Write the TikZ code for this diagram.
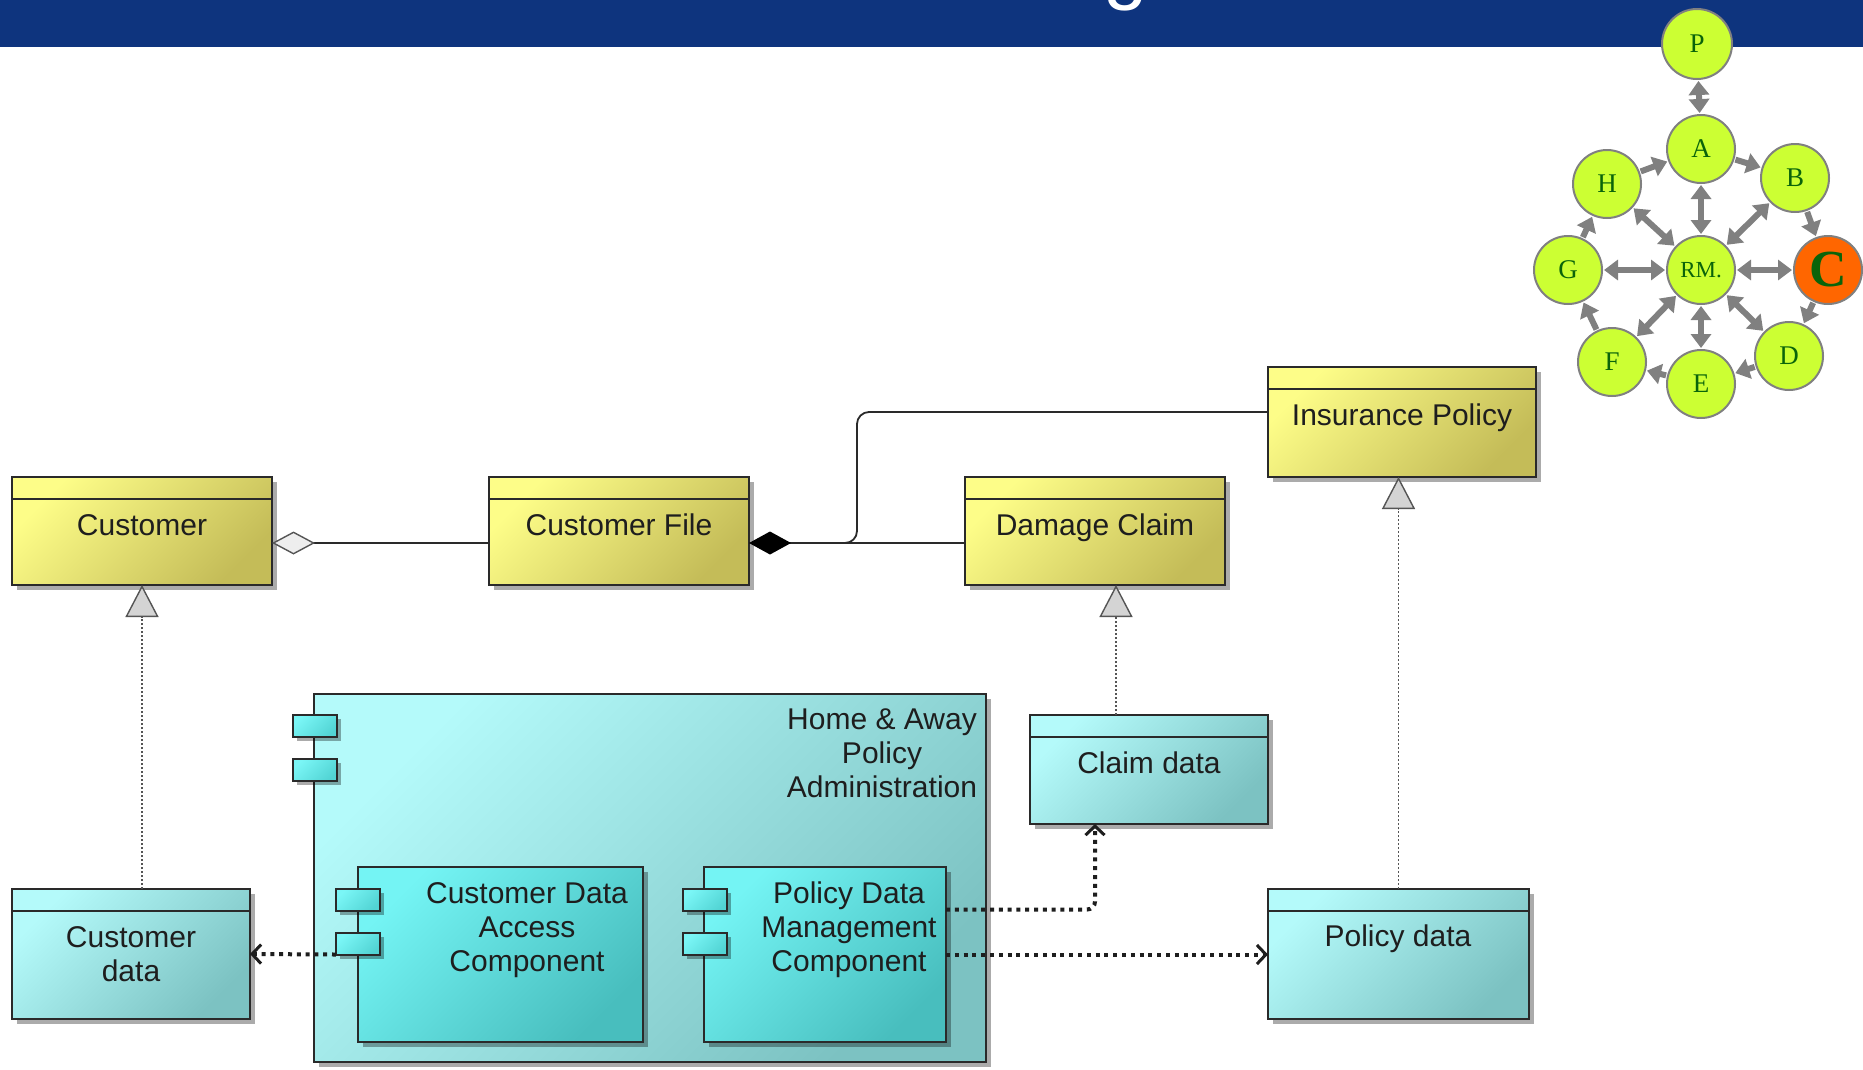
\documentclass[tikz,border=0pt]{standalone}
\usepackage{fontspec}
\setmainfont{Liberation Sans}
\newfontfamily\gserif{Liberation Serif}
\usetikzlibrary{arrows.meta,shadows,calc}
\definecolor{bar}{HTML}{0E347E}
\definecolor{yl}{HTML}{FDFD88}
\definecolor{yd}{HTML}{C4BC58}
\definecolor{cl}{HTML}{B4FAFA}
\definecolor{cd}{HTML}{7CC2C2}
\definecolor{kl}{HTML}{74F4F4}
\definecolor{kd}{HTML}{48BEBE}
\definecolor{pl}{HTML}{7AF6F6}
\definecolor{pd}{HTML}{52D4D4}
\definecolor{boxline}{HTML}{2A2A2A}
\definecolor{txt}{HTML}{1E1E1E}
\definecolor{lime}{HTML}{CCFF33}
\definecolor{orng}{HTML}{FF6600}
\definecolor{gtxt}{HTML}{0A640A}
\definecolor{garc}{HTML}{808080}
\definecolor{genc}{HTML}{555555}
\definecolor{trif}{HTML}{D4D4D4}
\definecolor{dmf}{HTML}{EEEEEE}
\begin{document}
\begin{tikzpicture}[x=1pt,y=-1pt,
  shbox/.style={rectangle, draw=boxline, line width=1.6pt, inner sep=0pt, outer sep=0pt, anchor=north west},
  shad/.style={drop shadow={shadow xshift=5pt,shadow yshift=-5pt,fill=black,opacity=0.33}},
  ybox/.style={shbox, shad, top color=yl, bottom color=yd, shading angle=45},
  cbox/.style={shbox, shad, top color=cl, bottom color=cd, shading angle=45},
  kbox/.style={shbox, shad, top color=kl, bottom color=kd, shading angle=45},
  portbox/.style={shbox, minimum width=44pt, minimum height=22pt, top color=pl, bottom color=pd, shading angle=45,
     drop shadow={shadow xshift=4pt,shadow yshift=-4pt,fill=black,opacity=0.33}},
  hdr/.style={draw=boxline, line width=1.6pt},
  lbl/.style={anchor=north, inner sep=0pt, align=center, font=\fontsize{30}{34}\selectfont, text=txt},
  assoc/.style={draw=boxline, line width=1.8pt},
  gen/.style={draw=genc, line width=1.4pt, dash pattern=on 2pt off 2pt,
     -{Triangle[length=32pt,width=33pt,fill=trif,line width=1.4pt]}},
  dep/.style={draw=txt, line width=4pt, dash pattern=on 4pt off 4.8pt,
     -{Straight Barb[length=9pt,width=19pt,line width=3pt]}},
  gnode/.style={circle, draw=garc, line width=2pt, fill=lime, minimum size=68pt, inner sep=0pt,
     text=gtxt, font=\gserif\fontsize{27}{27}\selectfont},
  garr/.style={draw=garc, line width=6pt, -{Triangle[length=14pt,width=20pt]}, shorten >=1pt, shorten <=1pt},
  gdbl/.style={garr, {Triangle[length=14pt,width=20pt]}-{Triangle[length=14pt,width=20pt]}}
]
\useasboundingbox (0,0) rectangle (1863,1069);
\fill[white] (0,0) rectangle (1863,1069);
\fill[bar] (0,0) rectangle (1863,47);
\begin{scope}
  \clip (0,0) rectangle (1863,1069);
  \node[font=\fontsize{80}{80}\selectfont, text=white, anchor=base, inner sep=0pt] (title) at (1126,-6) {g};
\end{scope}

% ---- class boxes (yellow)
\node[ybox, minimum width=260pt, minimum height=108pt] (cust) at (12,477) {};
\node[ybox, minimum width=260pt, minimum height=108pt] (cfile) at (489,477) {};
\node[ybox, minimum width=260pt, minimum height=108pt] (dmg) at (965,477) {};
\node[ybox, minimum width=268pt, minimum height=110pt] (ins) at (1268,367) {};
\foreach \b in {cust,cfile,dmg,ins}
  \draw[hdr] ([yshift=-22pt]\b.north west) -- ([yshift=-22pt]\b.north east);
\node[lbl] (custl) at (142,514) {Customer};
\node[lbl] (cfilel) at (619,514) {Customer File};
\node[lbl] (dmgl) at (1095,514) {Damage Claim};
\node[lbl] (insl) at (1402,404) {Insurance Policy};

% ---- data boxes (cyan)
\node[cbox, minimum width=238pt, minimum height=130pt] (custdata) at (12,889) {};
\node[cbox, minimum width=238pt, minimum height=109pt] (clm) at (1030,715) {};
\node[cbox, minimum width=261pt, minimum height=130pt] (pol) at (1268,889) {};
\foreach \b in {custdata,clm,pol}
  \draw[hdr] ([yshift=-22pt]\b.north west) -- ([yshift=-22pt]\b.north east);
\node[lbl] (custdatal) at (131,926) {Customer\\data};
\node[lbl] (clml) at (1149,752) {Claim data};
\node[lbl] (poll) at (1398,925) {Policy data};

% ---- components
\node[cbox, minimum width=672pt, minimum height=368pt] (ha) at (314,694) {};
\node[portbox] (hap1) at (293,715) {};
\node[portbox] (hap2) at (293,759) {};
\node[lbl] (hal) at (882,709) {Home \& Away\\Policy\\Administration};

\node[kbox, minimum width=285pt, minimum height=175pt] (cdac) at (358,867) {};
\node[portbox] (cdacp1) at (336,889) {};
\node[portbox] (cdacp2) at (336,933) {};
\node[lbl] (cdacl) at (527,882) {Customer Data\\Access\\Component};

\node[kbox, minimum width=242pt, minimum height=175pt] (pdmc) at (704,867) {};
\node[portbox] (pdmcp1) at (683,889) {};
\node[portbox] (pdmcp2) at (683,933) {};
\node[lbl] (pdmcl) at (849,882) {Policy Data\\Management\\Component};

% ---- associations
\draw[assoc, {Diamond[length=43pt,width=23pt,fill=dmf,color=genc,line width=1.4pt]}-]
  ([yshift=-12pt]cust.east) -- ([yshift=-12pt]cfile.west);
\draw[assoc, {Diamond[length=42pt,width=23pt,fill=black,color=black]}-]
  ([yshift=-12pt]cfile.east) -- ([yshift=-12pt]dmg.west);
\coordinate (br) at (845,543);
\draw[assoc, rounded corners=12pt] (br) -- (857,543) -- (857,412) -- ([yshift=10pt]ins.west);

% ---- generalizations
\draw[gen] (cust.south |- custdata.north) -- (cust.south);
\draw[gen] ([xshift=21pt]dmg.south |- clm.north) -- ([xshift=21pt]dmg.south);
\draw[gen] (pol.north) -- (pol.north |- ins.south);

% ---- dependencies
\draw[dep] (cdacp2.west |- cdac.west) -- (custdata.east);
\draw[dep, rounded corners=8pt] ([yshift=45pt]pdmc.east) -| ([xshift=65pt]clm.south west);
\draw[dep] (pdmc.east) -- (pol.west |- pdmc.east);

% ---- graph
\node[gnode, minimum size=70pt] (P) at (1697,44) {P};
\node[gnode] (A) at (1701,149) {A};
\node[gnode] (B) at (1795,178) {B};
\node[gnode] (H) at (1607,184) {H};
\node[gnode] (G) at (1568,270) {G};
\node[gnode, font=\gserif\fontsize{23}{23}\selectfont] (RM) at (1701,270) {RM.};
\node[gnode, fill=orng, font=\gserif\bfseries\fontsize{52}{52}\selectfont] (C) at (1828,270) {C};
\node[gnode] (D) at (1789,356) {D};
\node[gnode] (E) at (1701,384) {E};
\node[gnode] (F) at (1612,362) {F};

\draw[gdbl] (P) -- (A);
\foreach \n in {A,B,C,D,E,F,G,H} \draw[gdbl] (RM) -- (\n);
\draw[garr] (A) -- (B);
\draw[garr] (B) -- (C);
\draw[garr] (C) -- (D);
\draw[garr] (D) -- (E);
\draw[garr] (E) -- (F);
\draw[garr] (F) -- (G);
\draw[garr] (G) -- (H);
\draw[garr] (H) -- (A);
\end{tikzpicture}
\end{document}
